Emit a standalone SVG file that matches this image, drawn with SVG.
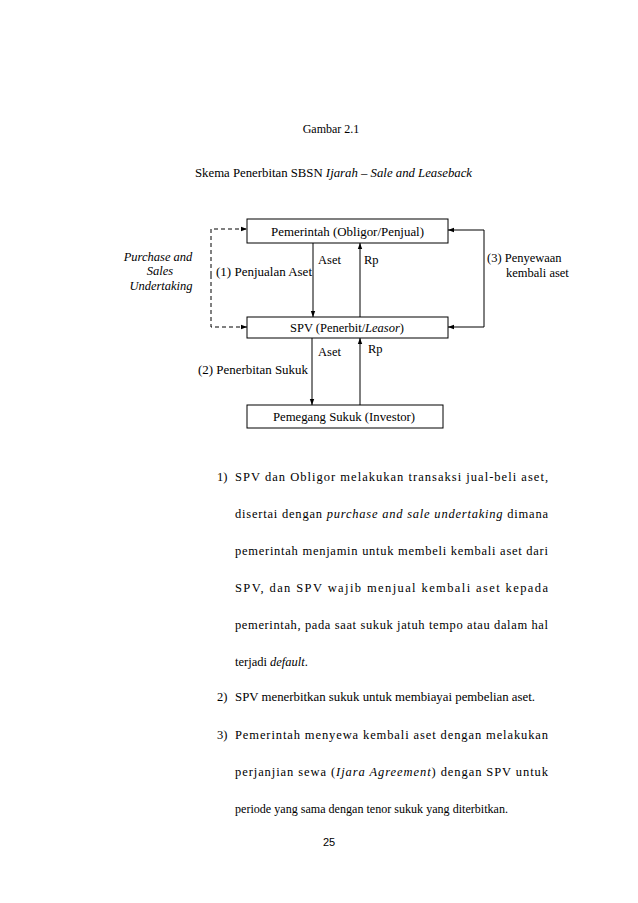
<svg xmlns="http://www.w3.org/2000/svg" width="638" height="903" viewBox="0 0 638 903">
<style>
text{font-family:"Liberation Serif","Times New Roman",serif;font-size:12.5px;fill:#000}
.it{font-style:italic}
.box{fill:#fff;stroke:#000;stroke-width:1}
.ln{fill:none;stroke:#000;stroke-width:1}
.ds{fill:none;stroke:#000;stroke-width:1;stroke-dasharray:4,3}
</style>
<defs>
<marker id="ah" markerWidth="6" markerHeight="6" refX="6" refY="3" orient="auto" markerUnits="userSpaceOnUse">
<path d="M0,0.8 L6,3 L0,5.2 z" fill="#000"/>
</marker>
</defs>
<rect width="638" height="903" fill="#fff"/>
<text x="331" y="133" text-anchor="middle" style="font-size:12px">Gambar 2.1</text>
<text x="195" y="177" textLength="277" lengthAdjust="spacingAndGlyphs">Skema Penerbitan SBSN <tspan class="it">Ijarah – Sale and Leaseback</tspan></text>

<g id="connectors">
<line class="ln" x1="313" y1="243" x2="313" y2="317" marker-end="url(#ah)"/>
<line class="ln" x1="360" y1="317" x2="360" y2="243" marker-end="url(#ah)"/>
<line class="ln" x1="312" y1="338" x2="312" y2="405" marker-end="url(#ah)"/>
<line class="ln" x1="360" y1="405" x2="360" y2="338" marker-end="url(#ah)"/>
<polyline class="ds" points="211,275 211,229 247,229" marker-end="url(#ah)"/>
<polyline class="ds" points="211,275 211,327 247,327" marker-end="url(#ah)"/>
<polyline class="ln" points="484,278 484,230 448,230" marker-end="url(#ah)"/>
<polyline class="ln" points="484,278 484,327 448,327" marker-end="url(#ah)"/>
<text x="318" y="264">Aset</text>
<text x="364" y="264">Rp</text>
<text x="216" y="276" textLength="96" lengthAdjust="spacingAndGlyphs">(1) Penjualan Aset</text>
<text x="318" y="356">Aset</text>
<text x="368" y="353">Rp</text>
<text x="198" y="374" textLength="110" lengthAdjust="spacingAndGlyphs">(2) Penerbitan Sukuk</text>
<text x="487" y="262">(3) Penyewaan</text>
<text x="506" y="277">kembali aset</text>
<text class="it" x="158" y="261" text-anchor="middle">Purchase and</text>
<text class="it" x="160" y="275" text-anchor="middle">Sales</text>
<text class="it" x="161" y="290" text-anchor="middle">Undertaking</text>
</g>

<g id="pemerintah">
<rect class="box" x="247" y="219" width="201" height="24"/>
<text x="271" y="236" textLength="153" lengthAdjust="spacingAndGlyphs">Pemerintah (Obligor/Penjual)</text>
</g>
<g id="spv">
<rect class="box" x="247" y="317" width="201" height="21"/>
<text x="290" y="332" textLength="114" lengthAdjust="spacingAndGlyphs">SPV (Penerbit/<tspan class="it">Leasor</tspan>)</text>
</g>
<g id="investor">
<rect class="box" x="247" y="405" width="196" height="23"/>
<text x="273" y="421" textLength="142" lengthAdjust="spacingAndGlyphs">Pemegang Sukuk (Investor)</text>
</g>

<g id="body">
<text x="217" y="481">1)</text>
<text x="235" y="481" textLength="313" lengthAdjust="spacing">SPV dan Obligor melakukan transaksi jual-beli aset,</text>
<text x="235" y="518" textLength="313" lengthAdjust="spacing">disertai dengan <tspan class="it">purchase and sale undertaking</tspan> dimana</text>
<text x="235" y="555" textLength="313" lengthAdjust="spacing">pemerintah menjamin untuk membeli kembali aset dari</text>
<text x="235" y="592" textLength="313" lengthAdjust="spacing">SPV, dan SPV wajib menjual kembali aset kepada</text>
<text x="235" y="629" textLength="313" lengthAdjust="spacing">pemerintah, pada saat sukuk jatuh tempo atau dalam hal</text>
<text x="235" y="666">terjadi <tspan class="it">default</tspan>.</text>
<text x="217" y="701">2)</text>
<text x="235" y="701" textLength="300" lengthAdjust="spacingAndGlyphs">SPV menerbitkan sukuk untuk membiayai pembelian aset.</text>
<text x="217" y="739">3)</text>
<text x="235" y="739" textLength="313" lengthAdjust="spacing">Pemerintah menyewa kembali aset dengan melakukan</text>
<text x="235" y="776" textLength="313" lengthAdjust="spacing">perjanjian sewa (<tspan class="it">Ijara Agreement</tspan>) dengan SPV untuk</text>
<text x="235" y="813" textLength="273" lengthAdjust="spacingAndGlyphs">periode yang sama dengan tenor sukuk yang diterbitkan.</text>
</g>
<text x="329" y="846" text-anchor="middle" style="font-family:'Liberation Sans',Arial,sans-serif;font-size:11px">25</text>
</svg>
